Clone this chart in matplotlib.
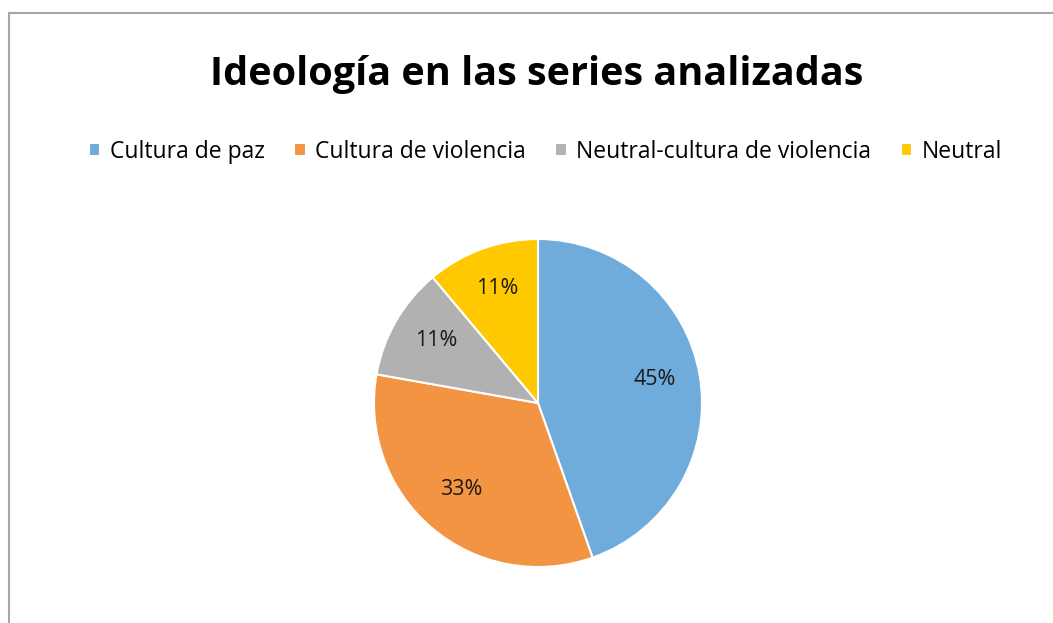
import matplotlib
matplotlib.use("Agg")
import numpy as np
import matplotlib.pyplot as plt
from matplotlib.lines import Line2D

categorias = ["Cultura de paz", "Cultura de violencia", "Neutral-cultura de violencia", "Neutral"]
valores = [44.6, 33.2, 11.1, 11.1]
etiquetas = ["45%", "33%", "11%", "11%"]
colores = ["#6FACDC", "#F29441", "#B1B1B1", "#FFC901"]
titulo = "Ideología en las series analizadas"

plt.rcParams["font.family"] = ["Open Sans", "DejaVu Sans"]

W, H = 1053, 623
fig = plt.figure(figsize=(W / 100, H / 100), dpi=100)

# marco gris del gráfico
fig.add_artist(Line2D([9 / W, 9 / W], [0, 1 - 13 / H], color="#A6A6A6", lw=1.5))
fig.add_artist(Line2D([9 / W, 1], [1 - 13 / H, 1 - 13 / H], color="#A6A6A6", lw=1.5))

cx, cy, r = 538, 403, 164
ax = fig.add_axes([(cx - r) / W, (H - cy - r) / H, 2 * r / W, 2 * r / H])
wedges, _ = ax.pie(valores, colors=colores, startangle=90, counterclock=False,
                   wedgeprops=dict(edgecolor="white", linewidth=1.5))
for w, lab in zip(wedges, etiquetas):
    ang = np.deg2rad((w.theta1 + w.theta2) / 2)
    d = 0.72 * w.r
    ax.text(d * np.cos(ang), d * np.sin(ang) + 0.02, lab, ha="center", va="center",
            fontsize=15.5, color="#1a1a1a")
ax.set_xlim(-1, 1)
ax.set_ylim(-1, 1)
ax.set_aspect("equal")

fig.text(0.51, 1 - 74 / H, titulo, ha="center", va="center", fontsize=28.5, fontweight="bold")

fig.legend(wedges, categorias, loc="center", bbox_to_anchor=(0.518, 1 - 152 / H), ncol=4,
           frameon=False, fontsize=16.5, handlelength=0.5, handleheight=0.5,
           handletextpad=0.4, columnspacing=1.3)

fig.savefig("out.png", dpi=100)
